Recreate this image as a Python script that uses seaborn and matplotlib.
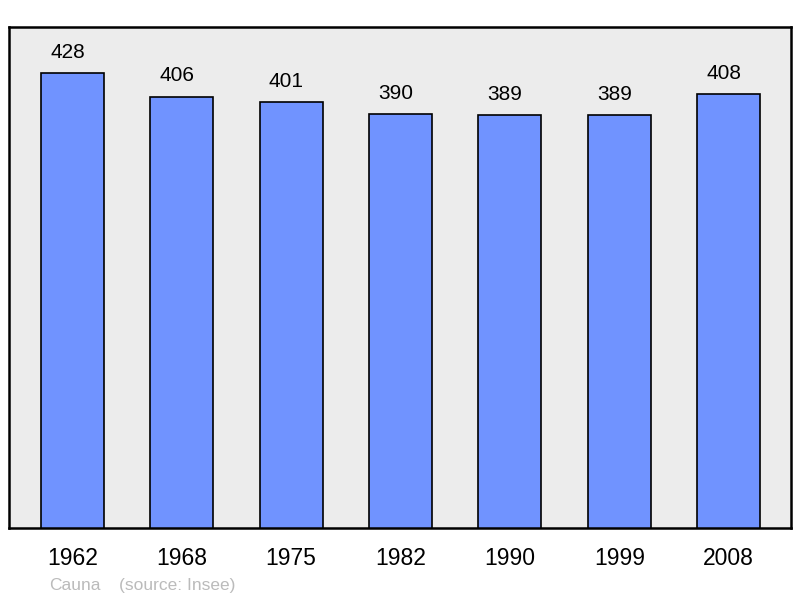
import pandas as pd
import matplotlib.pyplot as plt
import seaborn as sns

# Population data
years = ["1962", "1968", "1975", "1982", "1990", "1999", "2008"]
population = [428, 406, 401, 390, 389, 389, 408]
commune = "Cauna"
source = "(source: Insee)"

df = pd.DataFrame({"Year": years, "Population": population})

sns.set_style("white")
plt.rcParams["font.family"] = ["Liberation Sans", "DejaVu Sans"]

fig = plt.figure(figsize=(8, 5.98), dpi=100)
ax = fig.add_axes([9 / 800, 70 / 598, 782 / 800, 501 / 598])
ax.set_facecolor("#ececec")

sns.barplot(data=df, x="Year", y="Population", color="#7093ff", saturation=1,
            width=0.577, edgecolor="black", linewidth=1.2, ax=ax)

ax.set_xlim(-0.58, 6.57)
ax.set_ylim(9, 470)

# value labels above the bars
for i, v in enumerate(population):
    ax.annotate(str(v), (i, v), xytext=(-3.5, 8), textcoords="offset points",
                ha="center", va="bottom", fontsize=15, color="black")

ax.set_xlabel("")
ax.set_ylabel("")
ax.set_yticks([])
ax.tick_params(axis="x", length=0, pad=14, labelsize=16.5, labelcolor="black")

for s in ax.spines.values():
    s.set_visible(True)
    s.set_color("black")
    s.set_linewidth(1.8)

fig.text(49 / 800, 1 - 590 / 598, commune, fontsize=12.5, color="#bbbbbb")
fig.text(119 / 800, 1 - 590 / 598, source, fontsize=12.5, color="#bbbbbb")

fig.savefig("out.png", dpi=100)
